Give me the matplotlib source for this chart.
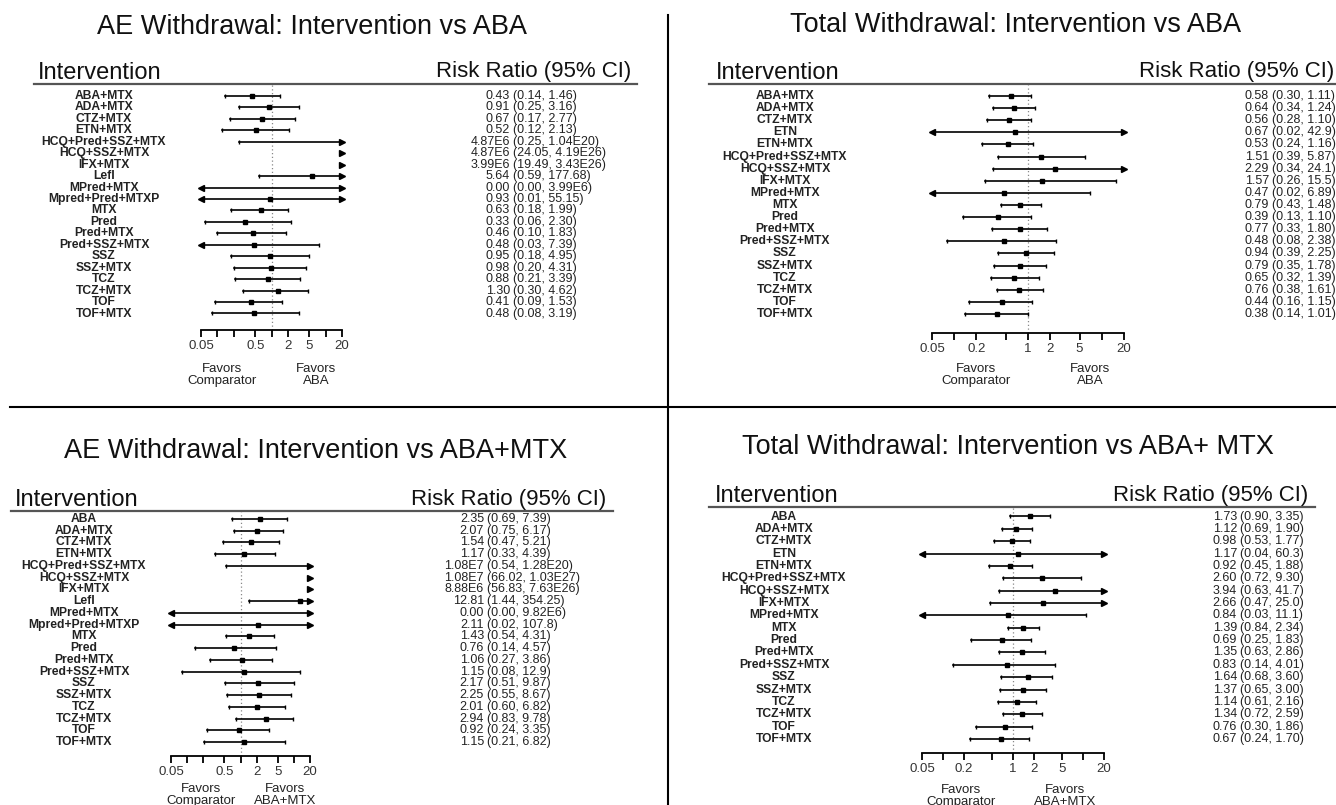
import matplotlib
matplotlib.use('Agg')
import matplotlib.pyplot as plt
from matplotlib.lines import Line2D
from matplotlib.ticker import NullLocator

plt.rcParams['font.family'] = ['Liberation Sans', 'DejaVu Sans']

W, H = 1336, 805

# AE withdrawal: intervention vs ABA
labels_ae_aba = ["ABA+MTX", "ADA+MTX", "CTZ+MTX", "ETN+MTX", "HCQ+Pred+SSZ+MTX", "HCQ+SSZ+MTX",
                 "IFX+MTX", "Lefl", "MPred+MTX", "Mpred+Pred+MTXP", "MTX", "Pred", "Pred+MTX",
                 "Pred+SSZ+MTX", "SSZ", "SSZ+MTX", "TCZ", "TCZ+MTX", "TOF", "TOF+MTX"]
rr_ae_aba = ["0.43", "0.91", "0.67", "0.52", "4.87E6", "4.87E6", "3.99E6", "5.64", "0.00", "0.93",
             "0.63", "0.33", "0.46", "0.48", "0.95", "0.98", "0.88", "1.30", "0.41", "0.48"]
lo_ae_aba = ["0.14", "0.25", "0.17", "0.12", "0.25", "24.05", "19.49", "0.59", "0.00", "0.01",
             "0.18", "0.06", "0.10", "0.03", "0.18", "0.20", "0.21", "0.30", "0.09", "0.08"]
hi_ae_aba = ["1.46", "3.16", "2.77", "2.13", "1.04E20", "4.19E26", "3.43E26", "177.68", "3.99E6", "55.15",
             "1.99", "2.30", "1.83", "7.39", "4.95", "4.31", "3.39", "4.62", "1.53", "3.19"]

# Total withdrawal: intervention vs ABA
labels_tot_aba = ["ABA+MTX", "ADA+MTX", "CTZ+MTX", "ETN", "ETN+MTX", "HCQ+Pred+SSZ+MTX", "HCQ+SSZ+MTX",
                  "IFX+MTX", "MPred+MTX", "MTX", "Pred", "Pred+MTX", "Pred+SSZ+MTX", "SSZ", "SSZ+MTX",
                  "TCZ", "TCZ+MTX", "TOF", "TOF+MTX"]
rr_tot_aba = ["0.58", "0.64", "0.56", "0.67", "0.53", "1.51", "2.29", "1.57", "0.47", "0.79",
              "0.39", "0.77", "0.48", "0.94", "0.79", "0.65", "0.76", "0.44", "0.38"]
lo_tot_aba = ["0.30", "0.34", "0.28", "0.02", "0.24", "0.39", "0.34", "0.26", "0.02", "0.43",
              "0.13", "0.33", "0.08", "0.39", "0.35", "0.32", "0.38", "0.16", "0.14"]
hi_tot_aba = ["1.11", "1.24", "1.10", "42.9", "1.16", "5.87", "24.1", "15.5", "6.89", "1.48",
              "1.10", "1.80", "2.38", "2.25", "1.78", "1.39", "1.61", "1.15", "1.01"]

# AE withdrawal: intervention vs ABA+MTX
labels_ae_abamtx = ["ABA", "ADA+MTX", "CTZ+MTX", "ETN+MTX", "HCQ+Pred+SSZ+MTX", "HCQ+SSZ+MTX",
                    "IFX+MTX", "Lefl", "MPred+MTX", "Mpred+Pred+MTXP", "MTX", "Pred", "Pred+MTX",
                    "Pred+SSZ+MTX", "SSZ", "SSZ+MTX", "TCZ", "TCZ+MTX", "TOF", "TOF+MTX"]
rr_ae_abamtx = ["2.35", "2.07", "1.54", "1.17", "1.08E7", "1.08E7", "8.88E6", "12.81", "0.00", "2.11",
                "1.43", "0.76", "1.06", "1.15", "2.17", "2.25", "2.01", "2.94", "0.92", "1.15"]
lo_ae_abamtx = ["0.69", "0.75", "0.47", "0.33", "0.54", "66.02", "56.83", "1.44", "0.00", "0.02",
                "0.54", "0.14", "0.27", "0.08", "0.51", "0.55", "0.60", "0.83", "0.24", "0.21"]
hi_ae_abamtx = ["7.39", "6.17", "5.21", "4.39", "1.28E20", "1.03E27", "7.63E26", "354.25", "9.82E6", "107.8",
                "4.31", "4.57", "3.86", "12.9", "9.87", "8.67", "6.82", "9.78", "3.35", "6.82"]

# Total withdrawal: intervention vs ABA+MTX
labels_tot_abamtx = ["ABA", "ADA+MTX", "CTZ+MTX", "ETN", "ETN+MTX", "HCQ+Pred+SSZ+MTX", "HCQ+SSZ+MTX",
                     "IFX+MTX", "MPred+MTX", "MTX", "Pred", "Pred+MTX", "Pred+SSZ+MTX", "SSZ", "SSZ+MTX",
                     "TCZ", "TCZ+MTX", "TOF", "TOF+MTX"]
rr_tot_abamtx = ["1.73", "1.12", "0.98", "1.17", "0.92", "2.60", "3.94", "2.66", "0.84", "1.39",
                 "0.69", "1.35", "0.83", "1.64", "1.37", "1.14", "1.34", "0.76", "0.67"]
lo_tot_abamtx = ["0.90", "0.69", "0.53", "0.04", "0.45", "0.72", "0.63", "0.47", "0.03", "0.84",
                 "0.25", "0.63", "0.14", "0.68", "0.65", "0.61", "0.72", "0.30", "0.24"]
hi_tot_abamtx = ["3.35", "1.90", "1.77", "60.3", "1.88", "9.30", "41.7", "25.0", "11.1", "2.34",
                 "1.83", "2.86", "4.01", "3.60", "3.00", "2.16", "2.59", "1.86", "1.70"]

ticks = [0.05, 0.1, 0.2, 0.5, 1, 2, 5, 10, 20]
tick_labels_ae = ["0.05", "", "", "0.5", "", "2", "5", "", "20"]
tick_labels_tot = ["0.05", "", "0.2", "", "1", "2", "5", "", "20"]


def fx(x):
    return x / W


def fy(y):
    return 1 - y / H


def forest(fig, title, labels, rr, lo, hi, tick_labels, comp, L):
    fig.text(fx(L['title_x']), fy(L['title_y']), title, ha='center', va='center',
             fontsize=19.5, color='#111')
    fig.text(fx(L['head_x']), fy(L['head_y']), 'Intervention', ha='left', va='center',
             fontsize=17, color='#111')
    fig.text(fx(L['rr_x']), fy(L['head_y'] - 1), 'Risk Ratio (95% CI)', ha='right', va='center',
             fontsize=16, color='#111')
    fig.add_artist(Line2D([fx(L['line_x0']), fx(L['line_x1'])], [fy(L['line_y'])] * 2,
                          color='#555', lw=1.6))

    n = len(labels)
    step = (L['row_y1'] - L['row_y0']) / (n - 1)
    top = L['line_y'] + 1
    ax = fig.add_axes([fx(L['ax_x0']), fy(L['ax_y']),
                       (L['ax_x1'] - L['ax_x0']) / W, (L['ax_y'] - top) / H])
    ax.set_xscale('log')
    ax.set_xlim(0.05, 20)
    ax.set_ylim(L['ax_y'], top)
    ax.patch.set_alpha(0)
    for s in ['top', 'left', 'right']:
        ax.spines[s].set_visible(False)
    ax.spines['bottom'].set_linewidth(1.3)
    ax.set_yticks([])
    ax.set_xticks(ticks)
    ax.set_xticklabels(tick_labels)
    ax.xaxis.set_minor_locator(NullLocator())
    ax.tick_params(axis='x', length=5, width=1.3, pad=2.5, labelsize=9.5, labelcolor='#333')
    ax.axvline(1, color='#888', lw=0.9, ls=(0, (1, 2)))

    for i in range(n):
        y = L['row_y0'] + i * step
        r, a, b = float(rr[i]), float(lo[i]), float(hi[i])
        if a >= 20:
            ax.plot(20, y, marker='>', ms=4, color='k', clip_on=False)
        else:
            ax.plot([max(a, 0.05), min(b, 20)], [y, y], color='k', lw=1.2, clip_on=False)
            if a < 0.05:
                ax.plot(0.05, y, marker='<', ms=4.5, color='k', clip_on=False)
            else:
                ax.plot(a, y, marker='|', ms=3.5, mew=1, color='k')
            if b > 20:
                ax.plot(20, y, marker='>', ms=4.5, color='k', clip_on=False)
            else:
                ax.plot(b, y, marker='|', ms=3.5, mew=1, color='k')
        if 0.05 <= r <= 20:
            ax.plot(r, y, marker='s', ms=2.5, color='k')

        fig.text(fx(L['lab_x']), fy(y), labels[i], ha='center', va='center',
                 fontsize=8.7, fontweight='bold', color='#222')
        fig.text(fx(L['est_x']), fy(y), rr[i], ha='right', va='center', fontsize=9, color='#222')
        fig.text(fx(L['est_x'] + 3), fy(y), '(%s, %s)' % (lo[i], hi[i]), ha='left', va='center',
                 fontsize=9, color='#222')

    fy_mid = L['fav_y']
    fig.text(fx(L['fav_x0']), fy(fy_mid), 'Favors\nComparator', ha='center', va='center',
             fontsize=9.5, linespacing=0.9, color='#222')
    fig.text(fx(L['fav_x1']), fy(fy_mid), 'Favors\n' + comp, ha='center', va='center',
             fontsize=9.5, linespacing=0.9, color='#222')


def main():
    fig = plt.figure(figsize=(W / 100, H / 100), dpi=100)

    forest(fig, 'AE Withdrawal: Intervention vs ABA', labels_ae_aba,
           rr_ae_aba, lo_ae_aba, hi_ae_aba, tick_labels_ae, 'ABA',
           dict(title_x=312, title_y=27, head_x=38, head_y=73, rr_x=631, line_y=84,
                line_x0=34, line_x1=637, lab_x=104, row_y0=96, row_y1=313.5,
                ax_x0=201, ax_x1=342, ax_y=330, est_x=510, fav_x0=222, fav_x1=316, fav_y=375))
    forest(fig, 'Total Withdrawal: Intervention vs ABA', labels_tot_aba,
           rr_tot_aba, lo_tot_aba, hi_tot_aba, tick_labels_tot, 'ABA',
           dict(title_x=1016, title_y=25, head_x=716, head_y=73, rr_x=1334, line_y=84,
                line_x0=709, line_x1=1336, lab_x=785, row_y0=96, row_y1=314,
                ax_x0=932, ax_x1=1124, ax_y=333, est_x=1269, fav_x0=976, fav_x1=1090, fav_y=375))
    forest(fig, 'AE Withdrawal: Intervention vs ABA+MTX', labels_ae_abamtx,
           rr_ae_abamtx, lo_ae_abamtx, hi_ae_abamtx, tick_labels_ae, 'ABA+MTX',
           dict(title_x=316, title_y=451, head_x=15, head_y=500, rr_x=606, line_y=511,
                line_x0=11, line_x1=613, lab_x=84, row_y0=519, row_y1=742,
                ax_x0=171, ax_x1=310, ax_y=756, est_x=484, fav_x0=201, fav_x1=285, fav_y=795))
    forest(fig, 'Total Withdrawal: Intervention vs ABA+ MTX', labels_tot_abamtx,
           rr_tot_abamtx, lo_tot_abamtx, hi_tot_abamtx, tick_labels_tot, 'ABA+MTX',
           dict(title_x=1008, title_y=447, head_x=715, head_y=496, rr_x=1308, line_y=507,
                line_x0=709, line_x1=1315, lab_x=784, row_y0=516.5, row_y1=739,
                ax_x0=922, ax_x1=1104, ax_y=753, est_x=1237, fav_x0=961, fav_x1=1065, fav_y=796))

    # panel dividers
    fig.add_artist(Line2D([fx(668), fx(668)], [fy(15), fy(805)], color='k', lw=1.5))
    fig.add_artist(Line2D([fx(10), fx(1336)], [fy(407), fy(407)], color='k', lw=1.5))

    fig.savefig('out.png', dpi=100)


main()
